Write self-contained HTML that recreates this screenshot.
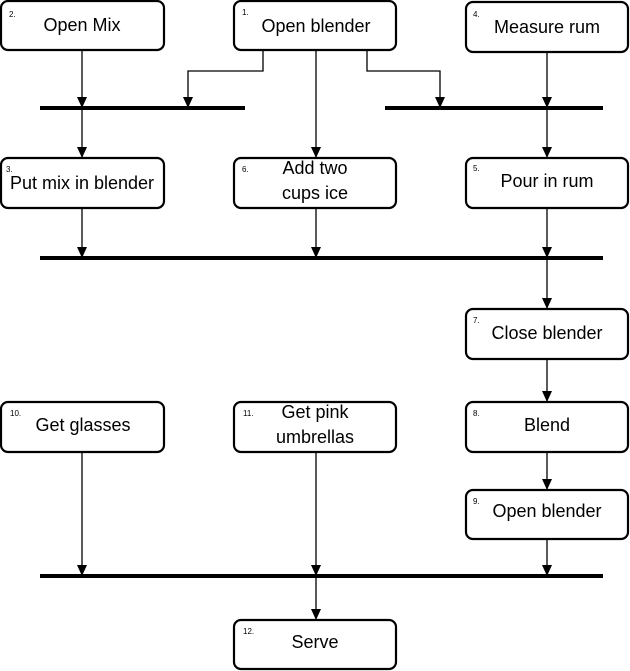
<!DOCTYPE html>
<html><head><style>
body{margin:0;background:#fff;}
svg{display:block;font-family:"Liberation Sans",sans-serif;}
.b{fill:#fff;stroke:#000;stroke-width:2.2;}
.t{font-size:18px;text-anchor:middle;}
.n{font-size:8px;}
.l{stroke:#000;stroke-width:1.3;fill:none;}
.bar{stroke:#000;stroke-width:4;}
</style></head><body>
<svg width="630" height="671" viewBox="0 0 630 671">
<line class="bar" x1="40" y1="108" x2="245" y2="108"/>
<line class="bar" x1="385" y1="108" x2="603" y2="108"/>
<line class="bar" x1="40" y1="258" x2="603" y2="258"/>
<line class="bar" x1="40" y1="576" x2="603" y2="576"/>
<g class="l">
<path d="M82 50V158"/><path d="M316 50V158"/><path d="M547 52V158"/>
<path d="M263 50V71H188V108"/><path d="M367 50V71H440V108"/>
<path d="M82 208V258"/><path d="M316 208V258"/><path d="M547 208V309"/>
<path d="M547 359V402"/><path d="M547 452V490"/>
<path d="M82 452V576"/><path d="M316 452V620"/><path d="M547 539V576"/>
</g>
<g fill="#000">
<path d="M77 97h10l-5 11z"/><path d="M183 97h10l-5 11z"/><path d="M435 97h10l-5 11z"/><path d="M542 97h10l-5 11z"/>
<path d="M77 147h10l-5 11z"/><path d="M311 147h10l-5 11z"/><path d="M542 147h10l-5 11z"/>
<path d="M77 247h10l-5 11z"/><path d="M311 247h10l-5 11z"/><path d="M542 247h10l-5 11z"/>
<path d="M542 298h10l-5 11z"/><path d="M542 391h10l-5 11z"/><path d="M542 479h10l-5 11z"/>
<path d="M77 565h10l-5 11z"/><path d="M311 565h10l-5 11z"/><path d="M542 565h10l-5 11z"/>
<path d="M311 609h10l-5 11z"/>
</g>
<rect class="b" x="1" y="1" width="163" height="49" rx="7"/>
<rect class="b" x="234" y="1" width="162" height="49" rx="7"/>
<rect class="b" x="466" y="2" width="162" height="50" rx="7"/>
<rect class="b" x="1" y="158" width="163" height="50" rx="7"/>
<rect class="b" x="234" y="158" width="162" height="50" rx="7"/>
<rect class="b" x="466" y="158" width="162" height="50" rx="7"/>
<rect class="b" x="466" y="309" width="162" height="50" rx="7"/>
<rect class="b" x="1" y="402" width="163" height="50" rx="7"/>
<rect class="b" x="234" y="402" width="162" height="50" rx="7"/>
<rect class="b" x="466" y="402" width="162" height="50" rx="7"/>
<rect class="b" x="466" y="490" width="162" height="49" rx="7"/>
<rect class="b" x="234" y="620" width="162" height="49" rx="7"/>
<g class="n">
<text x="9" y="17">2.</text><text x="242" y="15">1.</text><text x="473" y="17">4.</text>
<text x="6" y="172">3.</text><text x="242" y="172">6.</text><text x="473" y="171">5.</text>
<text x="473" y="323">7.</text><text x="10" y="416">10.</text><text x="243" y="416">11.</text>
<text x="473" y="416">8.</text><text x="473" y="504">9.</text><text x="243" y="634">12.</text>
</g>
<g class="t">
<text x="82" y="31">Open Mix</text>
<text x="316" y="32">Open blender</text>
<text x="547" y="33">Measure rum</text>
<text x="82" y="189">Put mix in blender</text>
<text x="315" y="174">Add two</text><text x="315" y="199">cups ice</text>
<text x="547" y="187">Pour in rum</text>
<text x="547" y="339">Close blender</text>
<text x="83" y="431">Get glasses</text>
<text x="315" y="418">Get pink</text><text x="315" y="443">umbrellas</text>
<text x="547" y="431">Blend</text>
<text x="547" y="517">Open blender</text>
<text x="315" y="648">Serve</text>
</g>
</svg>
</body></html>
